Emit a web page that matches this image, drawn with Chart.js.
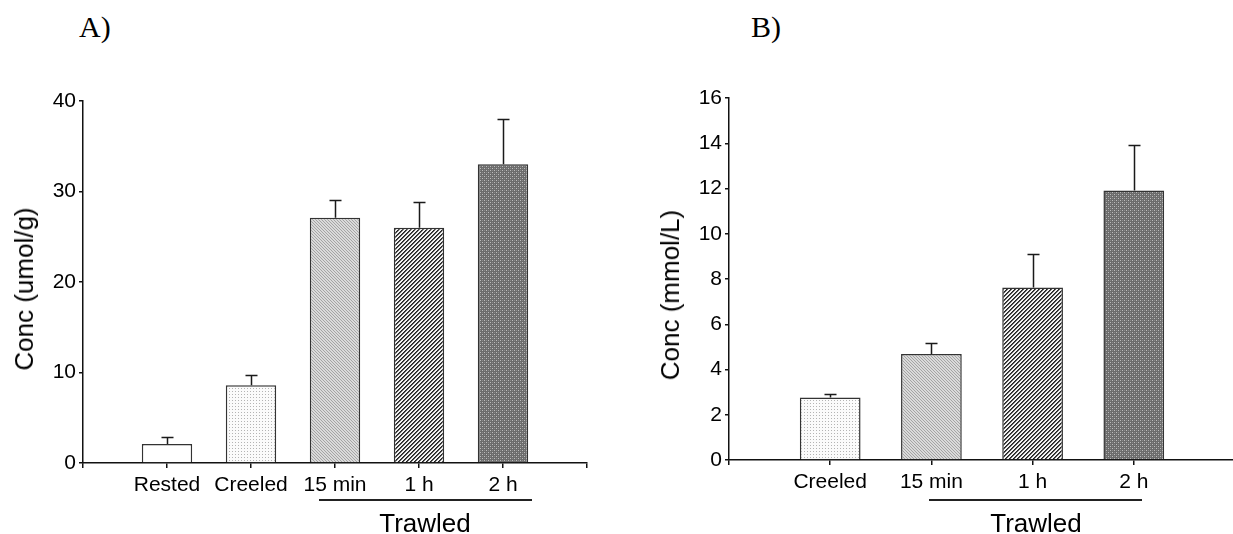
<!DOCTYPE html>
<html>
<head>
<meta charset="utf-8">
<script src="https://cdn.jsdelivr.net/npm/chart.js@4.4.1/dist/chart.umd.min.js"></script>
<style>
  body  { margin: 0; background: #fff; width: 1233px; height: 534px; overflow: hidden; position: relative;
          font-family: "Liberation Sans", Arial, sans-serif; color: #000; }
  canvas { position: absolute; top: 0; }
  #chartA { left: 0; }
  #chartB { left: 620px; }
  .panel  { position: absolute; font-family: "Liberation Serif", "Times New Roman", serif; font-size: 30px; line-height: 30px; }
  .group  { position: absolute; font-size: 26px; line-height: 26px; transform: translateX(-50%); white-space: nowrap; }
  .ytitle { position: absolute; font-size: 26px; line-height: 26px; white-space: nowrap;
            transform: translate(-50%, -50%) rotate(-90deg); }
  .rule   { position: absolute; height: 2px; background: #222; }
</style>
</head>
<body>
<div class="panel" style="left:79px; top:12px">A)</div>
<div class="panel" style="left:751px; top:12px">B)</div>
<canvas id="chartA" width="620" height="534"></canvas>
<canvas id="chartB" width="620" height="534"></canvas>
<div class="ytitle" id="titleA" style="left:24px; top:289px"></div>
<div class="ytitle" id="titleB" style="left:670px; top:295px"></div>
<div class="rule" style="left:319px; top:499px; width:213px"></div>
<div class="group" style="left:425px; top:510px">Trawled</div>
<div class="rule" style="left:929px; top:499px; width:213px"></div>
<div class="group" style="left:1036px; top:510px">Trawled</div>

<script>
// Panel A: muscle concentration
const categoriesA = ['Rested', 'Creeled', '15 min', '1 h', '2 h'];
const meansA      = [2.1, 8.6, 27.1, 26.0, 33.0];
const errorsA     = [0.8, 1.1, 2.0, 2.8, 5.0];
const yMaxA       = 40;
const yStepA      = 10;
const yTitleA     = 'Conc (umol/g)';

// Panel B: plasma concentration
const categoriesB = ['Creeled', '15 min', '1 h', '2 h'];
const meansB      = [2.76, 4.68, 7.62, 11.91];
const errorsB     = [0.15, 0.48, 1.48, 2.02];
const yMaxB       = 16;
const yStepB      = 2;
const yTitleB     = 'Conc (mmol/L)';

document.getElementById('titleA').textContent = yTitleA;
document.getElementById('titleB').textContent = yTitleB;

Chart.defaults.color = '#000';
Chart.defaults.font.family = '"Liberation Sans", Arial, sans-serif';

// small repeating tiles to imitate the printed fills
function tile(size, bg, dots) {
  const c = document.createElement('canvas');
  c.width = c.height = size;
  const g = c.getContext('2d');
  g.fillStyle = bg;
  g.fillRect(0, 0, size, size);
  dots.forEach(([x, y, col]) => { g.fillStyle = col; g.fillRect(x, y, 1, 1); });
  return g.createPattern(c, 'repeat');
}

const fills = {
  'Rested':  '#ffffff',
  'Creeled': tile(3, '#fbfbfb', [[1, 1, '#b4b4b4']]),
  '15 min':  tile(3, '#dadada', [[0, 0, '#a4a4a4'], [1, 1, '#a4a4a4'], [2, 2, '#a4a4a4']]),
  '1 h':     tile(4, '#f2f2f2', [[0, 3, '#222'], [1, 2, '#222'], [2, 1, '#222'], [3, 0, '#222'],
                                 [0, 0, '#555'], [1, 3, '#555'], [2, 2, '#555'], [3, 1, '#555']]),
  '2 h':     tile(4, '#6c6c6c', [[0, 0, '#bdbdbd'], [2, 2, '#bdbdbd'], [2, 0, '#8a8a8a'], [0, 2, '#8a8a8a']])
};

// upward-only error bars
const errorBars = {
  id: 'errorBars',
  afterDatasetsDraw(chart) {
    const ds = chart.data.datasets[0];
    const { x, y } = chart.scales;
    const g = chart.ctx;
    g.save();
    g.strokeStyle = '#1a1a1a';
    g.lineWidth = 1.5;
    ds.data.forEach((p, i) => {
      const px = Math.round(x.getPixelForValue(p.x)) + 0.5;
      const y0 = y.getPixelForValue(p.y);
      const y1 = Math.round(y.getPixelForValue(p.y + ds.errors[i])) + 0.5;
      g.beginPath();
      g.moveTo(px, y0);
      g.lineTo(px, y1);
      g.moveTo(px - 6, y1);
      g.lineTo(px + 6, y1);
      g.stroke();
    });
    g.restore();
  }
};

function makeChart(id, cats, means, errors, yMax, yStep, box) {
  return new Chart(document.getElementById(id), {
    type: 'bar',
    data: {
      datasets: [{
        data:            means.map((v, i) => ({ x: i + 1, y: v })),
        errors:          errors,
        backgroundColor: cats.map(c => fills[c]),
        borderColor:     '#333',
        borderWidth:     1.5,
        barPercentage:   0.6,
        categoryPercentage: 1
      }]
    },
    options: {
      responsive: false,
      animation:  false,
      layout: { padding: { top: box.top, right: box.right, left: 0, bottom: 0 } },
      plugins: { legend: { display: false }, tooltip: { enabled: false } },
      scales: {
        x: {
          type: 'linear',
          offset: false,
          min: 0,
          max: cats.length + 1,
          afterFit: s => { s.height = box.xHeight; },
          border: { color: '#111', width: 1.5 },
          grid:   { offset: false, drawOnChartArea: false, tickLength: 5, color: '#111', lineWidth: 1.5 },
          ticks:  { stepSize: 1, autoSkip: false, maxRotation: 0, padding: 5,
                    font: { size: 21 }, callback: v => cats[v - 1] ?? '' }
        },
        y: {
          min: 0,
          max: yMax,
          afterFit: s => { s.width = box.yWidth; },
          border: { color: '#111', width: 1.5 },
          grid:   { drawOnChartArea: false, tickLength: 4, color: '#111', lineWidth: 1.5 },
          ticks:  { stepSize: yStep, padding: 3, font: { size: 21 } }
        }
      }
    },
    plugins: [errorBars]
  });
}

makeChart('chartA', categoriesA, meansA, errorsA, yMaxA, yStepA,
          { top: 101, right: 33, yWidth: 83, xHeight: 71 });
makeChart('chartB', categoriesB, meansB, errorsB, yMaxB, yStepB,
          { top: 98, right: 0, yWidth: 109, xHeight: 74 });
</script>
</body>
</html>
